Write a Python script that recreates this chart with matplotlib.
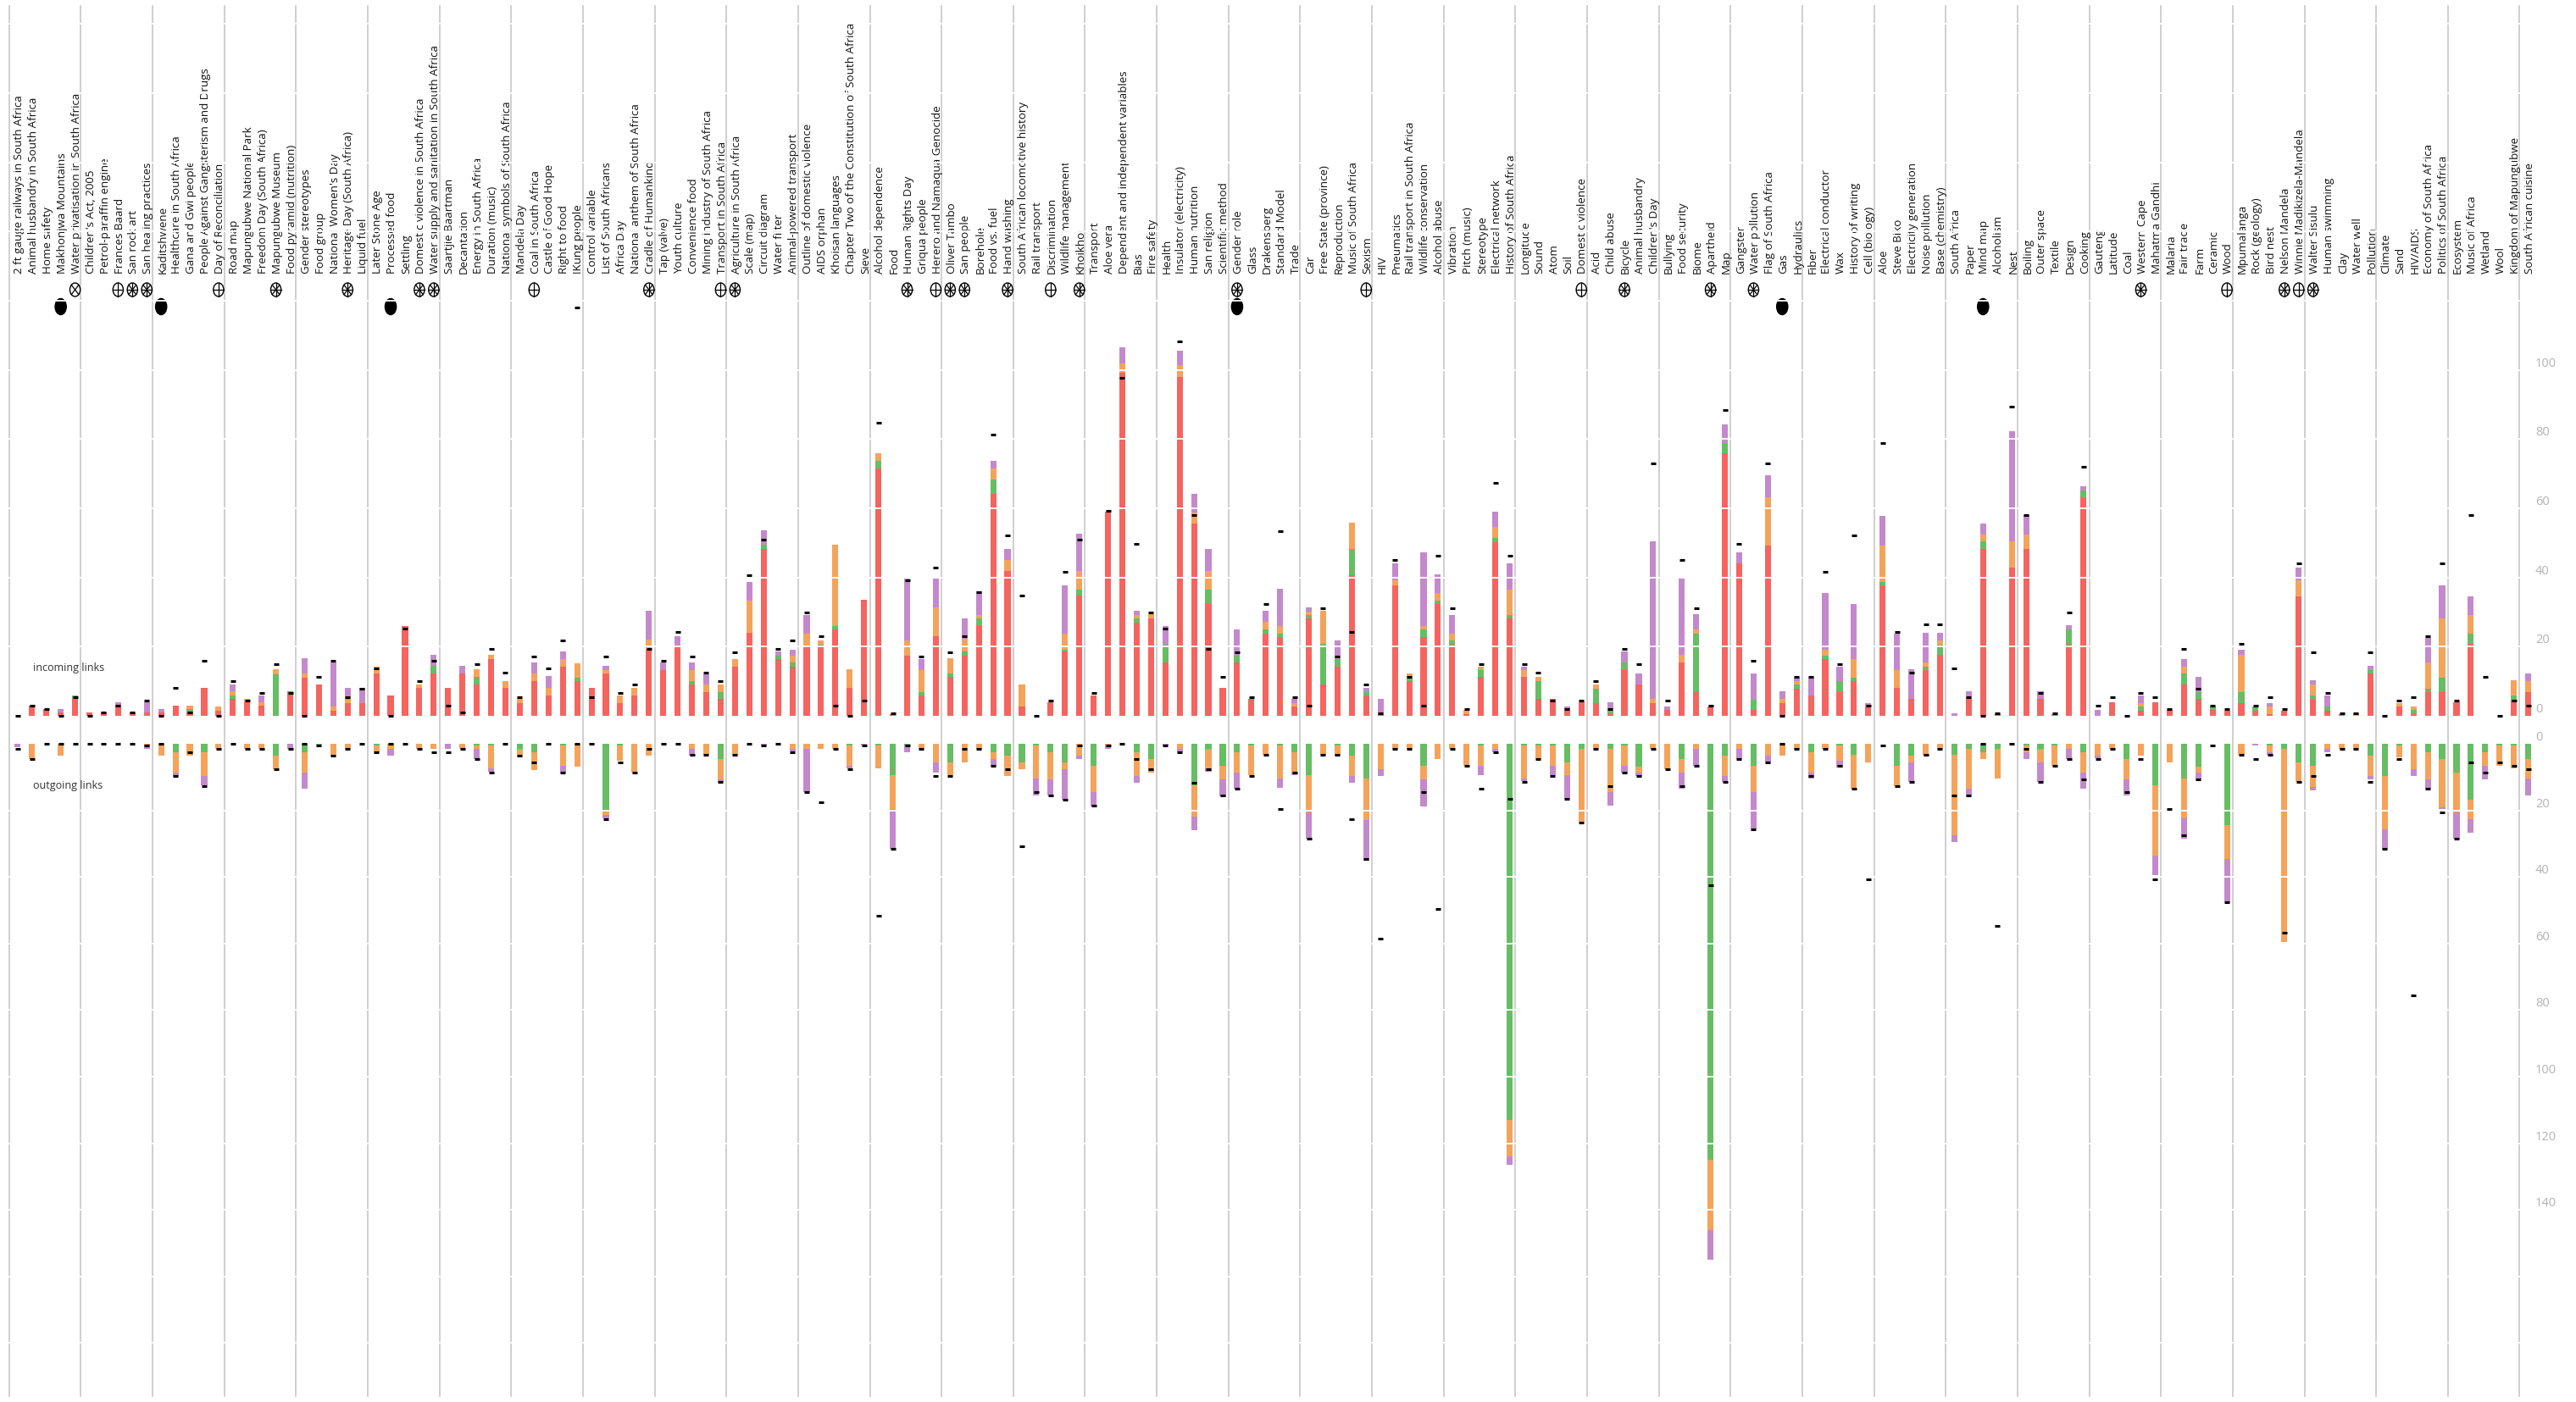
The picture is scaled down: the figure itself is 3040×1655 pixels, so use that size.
import matplotlib
matplotlib.use("Agg")
import matplotlib.pyplot as plt
from matplotlib.patches import Ellipse
from matplotlib.transforms import blended_transform_factory
import numpy as np

plt.rcParams['font.family'] = ['Open Sans', 'DejaVu Sans']

topics = [
    "2 ft gauge railways in South Africa", "Animal husbandry in South Africa", "Home safety",
    "Makhonjwa Mountains", "Water privatisation in South Africa",
    "Children's Act, 2005", "Petrol-paraffin engine", "Frances Baard", "San rock art",
    "San healing practices",
    "Kaditshwene", "Healthcare in South Africa", "Gana and Gwi people",
    "People Against Gangsterism and Drugs", "Day of Reconciliation",
    "Road map", "Mapungubwe National Park", "Freedom Day (South Africa)", "Mapungubwe Museum",
    "Food pyramid (nutrition)",
    "Gender stereotypes", "Food group", "National Women's Day", "Heritage Day (South Africa)",
    "Liquid fuel",
    "Later Stone Age", "Processed food", "Settling", "Domestic violence in South Africa",
    "Water supply and sanitation in South Africa",
    "Saartjie Baartman", "Decantation", "Energy in South Africa", "Duration (music)",
    "National symbols of South Africa",
    "Mandela Day", "Coal in South Africa", "Castle of Good Hope", "Right to food", "!Kung people",
    "Control variable", "List of South Africans", "Africa Day", "National anthem of South Africa",
    "Cradle of Humankind",
    "Tap (valve)", "Youth culture", "Convenience food", "Mining industry of South Africa",
    "Transport in South Africa",
    "Agriculture in South Africa", "Scale (map)", "Circuit diagram", "Water filter",
    "Animal-powered transport",
    "Outline of domestic violence", "AIDS orphan", "Khoisan languages",
    "Chapter Two of the Constitution of South Africa", "Sieve",
    "Alcohol dependence", "Food", "Human Rights Day", "Griqua people", "Herero and Namaqua Genocide",
    "Oliver Tambo", "San people", "Borehole", "Food vs. fuel", "Hand washing",
    "South African locomotive history", "Rail transport", "Discrimination", "Wildlife management",
    "Khoikhoi",
    "Transport", "Aloe vera", "Dependent and independent variables", "Bias", "Fire safety",
    "Health", "Insulator (electricity)", "Human nutrition", "San religion", "Scientific method",
    "Gender role", "Glass", "Drakensberg", "Standard Model", "Trade",
    "Car", "Free State (province)", "Reproduction", "Music of South Africa", "Sexism",
    "HIV", "Pneumatics", "Rail transport in South Africa", "Wildlife conservation", "Alcohol abuse",
    "Vibration", "Pitch (music)", "Stereotype", "Electrical network", "History of South Africa",
    "Longitude", "Sound", "Atom", "Soil", "Domestic violence",
    "Acid", "Child abuse", "Bicycle", "Animal husbandry", "Children's Day",
    "Bullying", "Food security", "Biome", "Apartheid", "Map",
    "Gangster", "Water pollution", "Flag of South Africa", "Gas", "Hydraulics",
    "Fiber", "Electrical conductor", "Wax", "History of writing", "Cell (biology)",
    "Aloe", "Steve Biko", "Electricity generation", "Noise pollution", "Base (chemistry)",
    "South Africa", "Paper", "Mind map", "Alcoholism", "Nest",
    "Boiling", "Outer space", "Textile", "Design", "Cooking",
    "Gauteng", "Latitude", "Coal", "Western Cape", "Mahatma Gandhi",
    "Malaria", "Fair trade", "Farm", "Ceramic", "Wood",
    "Mpumalanga", "Rock (geology)", "Bird nest", "Nelson Mandela", "Winnie Madikizela-Mandela",
    "Walter Sisulu", "Human swimming", "Clay", "Water well", "Pollution",
    "Climate", "Sand", "HIV/AIDS", "Economy of South Africa", "Politics of South Africa",
    "Ecosystem", "Music of Africa", "Wetland", "Wool", "Kingdom of Mapungubwe",
    "South African cuisine",
]

# markers shown under the topic names
dot_topics = ["Makhonjwa Mountains", "Kaditshwene", "Processed food", "Gender role", "Gas", "Mind map"]
cross_topics = ["Water privatisation in South Africa"]
plus_topics = ["Frances Baard", "Day of Reconciliation", "Coal in South Africa", "Transport in South Africa",
               "Herero and Namaqua Genocide", "Discrimination", "Sexism", "Domestic violence", "Wood",
               "Winnie Madikizela-Mandela"]
star_topics = ["San rock art", "San healing practices", "Mapungubwe Museum", "Heritage Day (South Africa)",
               "Domestic violence in South Africa", "Water supply and sanitation in South Africa",
               "Cradle of Humankind", "Agriculture in South Africa", "Human Rights Day", "Oliver Tambo",
               "San people", "Hand washing", "Khoikhoi", "Gender role", "Bicycle", "Apartheid",
               "Water pollution", "Western Cape", "Nelson Mandela", "Walter Sisulu"]

# incoming links (stacked upwards)
in_red = [0, 3, 2, 1, 5, 1, 1, 3, 1, 1,
          1, 3, 1, 8, 1.5, 5, 4, 3, 0, 7,
          11, 9, 1.5, 3.7, 3.7, 12.2, 6, 26, 8, 12.2,
          8, 12.2, 9, 16.4, 8, 3.7, 10, 6, 14.3, 10,
          8, 12.2, 3.7, 6, 19, 13.3, 20, 9, 6.9, 4.9,
          14.3, 24, 48.3, 16.5, 14.3, 20, 20, 24.9, 8.1, 33.6,
          71.6, 0.6, 17.5, 5.9, 22.9, 11.2, 17.5, 26, 64.1, 41.9,
          2.7, 0, 3.9, 18.6, 34.7, 5.9, 59, 99.2, 26.9, 28.2,
          15.5, 98, 55.7, 32.4, 8.1, 15.4, 4.9, 23.8, 22.8, 2.7,
          28.2, 9.1, 14.3, 40.7, 5.9, 0.4, 37.7, 10, 22.8, 32.4,
          20.6, 0.6, 11.2, 50.2, 28.2, 11.2, 4.9, 4.9, 1.6, 3.9,
          3.7, 0.4, 13.2, 9.1, 3.7, 1.6, 15.4, 6.9, 2.7, 75.9,
          44.1, 1.7, 49.2, 3.7, 7.8, 5.9, 16.5, 6.9, 10, 2.7,
          37.6, 8.1, 4.9, 13.2, 17.6, 0, 4.9, 48.3, 0.6, 42.9,
          48.3, 4.9, 0.6, 20.6, 63, 0, 3.9, 0, 1.4, 3.9,
          1.6, 9.1, 4.9, 1.6, 1.4, 3.7, 1.4, 0.6, 1.4, 34.5,
          4.7, 1.4, 0.6, 0, 12.2, 0, 2.7, 0.6, 6.9, 6.9,
          3.9, 20.8, 0, 0, 4.7, 6.9]
in_green = [0, 0, 0, 0, 1, 0, 0, 0, 0, 0,
            0, 0, 1, 0, 0, 1, 0, 0, 12, 0,
            0, 0, 0, 0, 0, 0, 0, 0, 0, 2.2,
            0, 0, 2.2, 0, 0, 0, 0, 0, 0, 1,
            0, 0, 0, 0, 0, 0, 0, 1, 0, 2,
            0, 0, 1.1, 1, 1.1, 0, 0.6, 1.1, 0, 0,
            2.1, 0, 0, 1, 0, 1, 1.1, 2.2, 4.2, 0,
            0, 0, 0, 0.6, 1.9, 0, 0, 0, 1.3, 0,
            5.1, 0, 0, 4.2, 0, 2.1, 0, 1.1, 1, 0,
            0.9, 11.7, 2.2, 7.6, 1, 0, 0, 0.9, 2.1, 0.9,
            1.2, 0, 2, 1.2, 0.9, 0, 5.1, 0, 0, 0,
            4.1, 1.2, 2.2, 0, 0, 0, 0, 16.9, 0, 3,
            0, 3, 0, 0, 1.2, 0, 1, 3.1, 1, 0,
            1.2, 0, 0, 1.1, 3, 0, 0, 2.1, 0, 0,
            0, 0, 0, 4.3, 2.1, 0, 0, 0, 1.3, 0,
            0, 3.1, 2, 1.1, 0, 3.2, 1.3, 0, 0, 0,
            1.2, 1.3, 0, 0, 1, 0, 0, 1, 0.9, 4.1,
            0, 3, 0, 0, 1.2, 0]
in_orange = [0, 0, 0, 0, 0, 0, 0, 0, 0, 0,
             0, 0, 1, 0, 1.2, 1, 1, 1, 1.5, 0,
             1.2, 0, 1.2, 1, 0, 2.1, 0, 0, 1, 0,
             0, 0, 2.2, 1.2, 2.1, 1.2, 2.2, 2.2, 2.1, 4.3,
             0, 1, 2.2, 2.2, 3, 0, 0, 3.2, 2.2, 2.2,
             2.2, 9.2, 0, 0, 2.1, 3.8, 1.2, 23.5, 5.4, 0,
             2.2, 0, 4.3, 6.4, 8.4, 4.5, 3.8, 0.9, 3.2, 3.1,
             6.4, 0, 0, 4.6, 5.3, 0, 0, 2.8, 0.9, 1.2,
             0, 3.3, 3, 5.3, 0, 0, 0, 2.3, 2.2, 1,
             1.1, 9.6, 0, 7.5, 0, 0, 1.5, 1.3, 1.1, 2.2,
             2, 1, 1.1, 3.2, 7.5, 2, 1.2, 0, 0, 0,
             1.2, 0, 0, 0, 1.2, 0, 2.2, 1.1, 0, 0,
             0, 0, 13.9, 1.2, 1, 0, 1.7, 0, 5.5, 0,
             10.4, 5.1, 0, 1.1, 1.2, 0, 0, 2, 0, 7.5,
             4.1, 0, 0, 0, 0, 0, 0, 0, 1, 0,
             0, 2.1, 0, 0, 0, 10.7, 0, 2.1, 0, 4.7,
             3.2, 0, 0, 0.7, 0, 0, 1, 1.1, 7.6, 17.2,
             0, 5.3, 0, 0, 4.3, 3.1]
in_purple = [0, 0, 0, 1, 0, 0, 0, 1, 0, 3,
             1, 0, 0, 0, 0, 2, 0, 2, 0, 0,
             4.5, 0, 12.8, 3.4, 4.4, 0, 0, 0, 0, 3.2,
             0, 2.2, 0, 0, 0, 0, 3.2, 3.2, 2.2, 0,
             0, 1.2, 0, 0, 8.4, 2.2, 3, 2.3, 3, 0,
             0, 5.4, 4.2, 1.1, 1.7, 5.3, 0, 0, 0, 0,
             0, 0, 17.8, 3.2, 8.3, 0, 5.8, 6.8, 2.2, 3.3,
             0, 0, 0, 13.9, 10.8, 0, 0, 4.5, 1.3, 0,
             5.4, 4.3, 5.4, 6.4, 0, 7.6, 0, 3.2, 10.7, 1.2,
             1.1, 0, 5.3, 0, 1.2, 4.5, 4.9, 0, 21.3, 5.5,
             5.3, 0, 0, 4.4, 7.5, 1.1, 0, 0, 1.1, 0,
             0, 2.3, 3.2, 3.1, 45.5, 1.1, 22.2, 4.5, 0, 5.3,
             3.2, 7.5, 6.5, 2.2, 1, 5.1, 16.3, 4.3, 15.9, 1,
             8.6, 10.6, 8.6, 8.6, 2.3, 0.7, 2.2, 3.2, 0, 32,
             5.6, 2.2, 0, 1.2, 1.3, 1.6, 0, 0, 2.2, 0,
             0, 2.2, 4.4, 0, 0, 1.6, 0, 1, 0, 3.7,
             1.1, 3.2, 0, 0, 1.2, 0, 0, 0, 7.2, 9.5,
             0, 5.4, 0, 0, 0, 2.2]
in_mark = [0, 3, 2, 0, 5.5, 0, 1, 3, 1, 4.3,
           0, 8, 1, 16, 0, 10, 4.3, 6.6, 15, 6.6,
           0, 11.3, 16, 5.5, 7.8, 13.6, 0, 25.3, 10, 16,
           3, 1, 15, 19.4, 12.4, 5.5, 17.1, 13.6, 21.8, 118,
           5.5, 17.1, 6.6, 9, 19.4, 16, 24.2, 17.1, 12.4, 10,
           18.3, 40.6, 51, 19.4, 21.8, 30, 23, 3, 0, 4.3,
           84.8, 0.7, 39.3, 17.1, 42.9, 18.3, 23, 35.8, 81.4, 52.2,
           34.7, 0, 4.3, 41.7, 51, 6.6, 59.2, 97.8, 49.8, 30,
           25.3, 108.2, 58, 19.4, 11.3, 18.3, 5.5, 32.4, 53.3, 5.5,
           3, 31.2, 17.1, 24.2, 9, 0.7, 45.1, 11.3, 3, 46.3,
           31.2, 2, 14.9, 67.3, 46.3, 14.9, 12.4, 4.3, 2, 4.3,
           10, 2, 19.4, 14.9, 73, 4.3, 45.1, 31.2, 3, 88.3,
           49.8, 16, 73, 0, 11.3, 11.3, 41.7, 14.9, 52.2, 3,
           78.9, 24.2, 12.5, 26.4, 26.4, 13.6, 5.5, 0, 0.7, 89.4,
           58, 6.6, 0.7, 30, 71.9, 3, 5.5, 0, 6.6, 5.5,
           2, 19.4, 7.8, 3, 2, 20.7, 3, 5.5, 2, 44,
           18.3, 6.6, 0.7, 0.7, 18.3, 0, 4.3, 5.5, 22.9, 44,
           4.3, 58, 11.3, 0, 4.3, 3]

# outgoing links (stacked downwards)
out_green = [0, 0, 0, 0, 0, 0, 0, 0, 0, 0,
             0, 2.6, 0, 2.6, 0, 0, 0, 0, 3.6, 0,
             2.6, 0.3, 0, 0, 0, 0.5, 0, 0, 0, 0,
             0, 0, 0.5, 0.5, 0, 1.5, 2.6, 0, 0.5, 0,
             0, 20, 0.5, 0, 0, 0, 0, 0, 0, 4.7,
             0, 0, 0, 0, 0, 0, 0, 0, 0.5, 0,
             0.5, 9.5, 0.5, 0, 0, 5.7, 0, 0, 2.6, 3.6,
             5.7, 0.5, 2.6, 5.7, 0, 6.6, 0, 0, 2.6, 4.7,
             0, 0, 12.5, 1.5, 6.6, 2.6, 0.5, 0, 0.5, 2.6,
             9.5, 0, 0.5, 3.6, 10.5, 0, 0, 0, 6.6, 0,
             0, 0, 0.5, 0, 113, 0.5, 0.5, 0.5, 5.7, 1.5,
             0, 1.5, 0.5, 6.8, 0, 0, 4.7, 0, 125, 3.6,
             0, 6.6, 0, 0, 0, 2.6, 0, 0.5, 3.4, 0,
             0, 6.6, 3.6, 0, 0, 3.4, 1.5, 2.6, 1.5, 0,
             0.5, 1.5, 0.5, 0, 2.6, 0, 0, 4.7, 0, 12.5,
             0, 10.5, 6.8, 0, 24.5, 0, 0, 0.5, 1.5, 5.5,
             6.6, 0, 0, 0, 3.6, 9.6, 0.5, 0, 2.6, 4.7,
             8.6, 16.7, 2.6, 0.5, 0.5, 4.7]
out_orange = [0, 4.5, 0, 3.6, 0, 0, 0, 0, 0, 0.5,
              3.6, 6, 3.6, 7, 1.5, 0, 1.5, 1.5, 4, 0,
              6, 0, 3.6, 1.5, 0, 2, 1.5, 0, 1.5, 1.5,
              0, 1.5, 1, 7, 0, 2, 5.2, 0, 6.2, 6.8,
              0, 1.5, 4.5, 8.6, 3.6, 0, 0, 1.5, 3.4, 6,
              3.4, 0, 0, 0, 1.5, 1.5, 1.5, 1.5, 6, 0,
              7, 10, 0, 1.5, 5.7, 3.8, 5.7, 1.5, 2, 6,
              2, 10, 8, 2, 3.6, 8, 0.5, 0, 7, 4,
              0, 1.5, 9.5, 6, 4.2, 6, 9, 3.4, 10, 6,
              11, 3.4, 3, 6, 12.5, 7.6, 1.5, 1.5, 4.2, 4.7,
              1.5, 6.6, 6, 1.5, 11, 10, 4.2, 6, 3.8, 22,
              1.5, 13, 6.2, 1.9, 1.5, 7.6, 4, 1.5, 21, 6,
              1.5, 8, 3.6, 3.6, 1.5, 6, 1.5, 4.7, 10.2, 5.7,
              0, 6, 1.9, 3.6, 1.5, 24, 12, 2, 9, 0,
              2, 4, 6, 1.5, 6, 3.6, 1.5, 6, 3.6, 21,
              5.5, 12, 1.9, 0, 10, 3.4, 0, 2, 58, 6,
              6.3, 1.5, 1.5, 1.5, 6, 16, 3.5, 7.6, 8, 14.3,
              12, 6, 4, 6, 7, 5.8]
out_purple = [1, 0, 0, 0, 0, 0, 0, 0, 0, 1,
              0, 1, 0, 2.9, 0, 0, 0, 0, 0, 1.5,
              5, 0, 0, 0, 0, 0, 2, 0, 0, 0,
              1.5, 0, 3, 0.8, 0, 0, 0, 0, 1.9, 0,
              0, 1, 0, 0, 0, 0, 0, 2, 0, 0.8,
              0, 0, 0.5, 0, 0.8, 13, 0, 0, 0.8, 0.5,
              0, 12, 2, 0, 3, 0, 0, 0, 2, 0,
              0, 4.9, 5, 9, 1, 4.2, 1, 0, 2, 0,
              0.5, 1, 4, 0.8, 5, 4.9, 0, 0, 2.8, 0.8,
              8, 0, 0, 2, 12, 2, 0, 0, 8, 0,
              0, 0, 3, 1, 2.5, 0.7, 0, 3, 7, 0,
              0, 4.2, 1.9, 1, 0, 0, 4.9, 5, 9, 1.9,
              3, 11, 1.9, 0, 0, 1.9, 0, 1.9, 0, 0,
              0, 0, 6, 0, 0, 2, 2, 0, 0, 0,
              2, 6, 0, 3, 4.9, 0.8, 0, 4.9, 0, 6,
              0, 6, 2, 0, 13, 0, 0.5, 0.8, 0, 0,
              1, 1, 0, 0, 1, 6, 0, 2, 3, 0.5,
              8, 4, 4, 0, 0, 5]
out_mark = [1.6, 4.7, 0, 0, 0, 0, 0, 0, 0, 0.5,
            0, 9.7, 2.6, 12.6, 1.5, 0, 1.5, 1.5, 7.6, 1.5,
            0, 0.5, 3.6, 1.5, 0, 2.6, 0, 0, 1.5, 2.6,
            2.6, 1.5, 4.5, 8.6, 0, 3.6, 5.7, 0, 8.6, 0,
            0, 22.6, 5.5, 8.6, 1.5, 0, 0, 3.4, 3.4, 11.5,
            3.4, 0, 0.5, 0, 2.6, 14.5, 17.6, 1.5, 7.6, 0.5,
            51.6, 31.6, 0.5, 1.5, 9.6, 9.6, 1.5, 1.5, 6.6, 7.6,
            30.7, 14.6, 15.6, 16.7, 0.5, 18.6, 0.5, 0, 4.7, 7.6,
            0.5, 2.6, 11.6, 7.6, 15.6, 13.5, 9.6, 3.4, 19.6, 8.6,
            28.6, 3.4, 3.4, 22.7, 34.7, 58.5, 1.5, 1.5, 14.6, 49.6,
            1.5, 6.6, 13.6, 2.6, 16.6, 11.5, 4.7, 9.6, 16.6, 23.6,
            1.5, 12.6, 8.6, 9.6, 1.5, 7.6, 12.6, 6.6, 42.6, 11.5,
            4.7, 25.7, 5.7, 0, 1.5, 9.6, 1.5, 6.6, 13.6, 40.6,
            0.5, 12.6, 11.5, 3.4, 1.5, 15.6, 15.6, 0, 54.6, 0,
            1.5, 11.5, 6.6, 4.7, 10.7, 4.7, 1.5, 14.6, 4.7, 40.6,
            19.6, 27.6, 10.7, 0.5, 47.6, 3.4, 4.7, 3.4, 56.8, 11.5,
            9.6, 3.4, 1.5, 1.5, 11.5, 31.5, 4.5, 75.5, 13.6, 20.6,
            28.6, 5.7, 8.6, 5.7, 6.6, 7.6]

in_ticks = [0, 20, 40, 60, 80, 100]
out_ticks = [0, 20, 40, 60, 80, 100, 120, 140]

RED = '#f5645f'
GREEN = '#66bd63'
ORANGE = '#f5a35a'
PURPLE = '#c489cc'

# ---- layout (pixels of the 3040 x 1655 image)
W, H = 3040, 1655
step = 16.93        # px per topic
first_line = 10.7   # px of the first separator
zero_in, zero_out = 845, 878
px_in, px_out = 4.083, 3.93   # px per link

x = np.arange(len(topics))
xl = -0.6 - first_line / step
xr = xl + W / step

fig = plt.figure(figsize=(W / 100, H / 100), dpi=100)
bg = fig.add_axes([0, 0, 1, 1])
bg.set_xlim(xl, xr)
bg.set_ylim(H, 0)
bg.axis('off')

ax_in = fig.add_axes([0, 1 - zero_in / H, 1, zero_in / H])
ax_in.set_xlim(xl, xr)
ax_in.set_ylim(0, zero_in / px_in)
ax_out = fig.add_axes([0, 0, 1, (H - zero_out) / H])
ax_out.set_xlim(xl, xr)
ax_out.set_ylim((H - zero_out) / px_out, 0)
for a in (ax_in, ax_out):
    a.axis('off')
    a.patch.set_alpha(0)

# group separators every 5 topics
for k in range(0, len(topics) + 1, 5):
    bg.axvline(k - 0.6, ymin=0.004, ymax=0.996, color='#cccccc', lw=1.3, zorder=0)

bw = 0.42
bottom = np.zeros(len(topics))
for vals, col in [(in_red, RED), (in_green, GREEN), (in_orange, ORANGE), (in_purple, PURPLE)]:
    ax_in.bar(x, vals, bw, bottom=bottom, color=col, zorder=2, linewidth=0)
    bottom += np.array(vals)
bottom = np.zeros(len(topics))
for vals, col in [(out_green, GREEN), (out_orange, ORANGE), (out_purple, PURPLE)]:
    ax_out.bar(x, vals, bw, bottom=bottom, color=col, zorder=2, linewidth=0)
    bottom += np.array(vals)

for v in range(20, 201, 20):
    ax_in.axhline(v, color='white', lw=1.3, zorder=3)
    ax_out.axhline(v, color='white', lw=1.3, zorder=3)

ax_in.plot(x, in_mark, ls='none', marker='_', ms=5, mew=2.2, color='black', zorder=4, clip_on=False)
ax_out.plot(x, out_mark, ls='none', marker='_', ms=5, mew=2.2, color='black', zorder=4, clip_on=False)

# right-hand scale
for a, ticks in [(ax_in, in_ticks), (ax_out, out_ticks)]:
    tr = blended_transform_factory(a.transAxes, a.transData)
    for t in ticks:
        a.text(2992 / W, t, str(t), transform=tr, ha='left', va='bottom',
               fontsize=10.5, color='#b3b3b3')

fig.text(39 / W, 1 - 789 / H, 'incoming links', fontsize=9, color='#333333', va='center', ha='left')
fig.text(39 / W, 1 - 928 / H, 'outgoing links', fontsize=9, color='#333333', va='center', ha='left')

# topic names
for i, t in enumerate(topics):
    bg.text(i + 0.1, 323, t, rotation=90, ha='center', va='bottom', fontsize=9.6, color='#111111')

# symbols under the names
a_w, b_h = 0.36, 8.0
sym_y, dot_y = 342, 362


def ring(i, angles):
    bg.add_patch(Ellipse((i, sym_y), 2 * a_w, 2 * b_h, fill=False, ec='black', lw=1.0))
    for ang in angles:
        c, s = np.cos(np.radians(ang)), np.sin(np.radians(ang))
        bg.plot([i - a_w * c, i + a_w * c], [sym_y - b_h * s, sym_y + b_h * s], color='black', lw=0.9)


for i, t in enumerate(topics):
    if t in plus_topics:
        ring(i, [0, 90])
    if t in cross_topics:
        ring(i, [45, 135])
    if t in star_topics:
        ring(i, [0, 45, 90, 135])
    if t in dot_topics:
        bg.add_patch(Ellipse((i, dot_y), 0.78, 19, color='black'))

fig.savefig('out.png', dpi=100)
